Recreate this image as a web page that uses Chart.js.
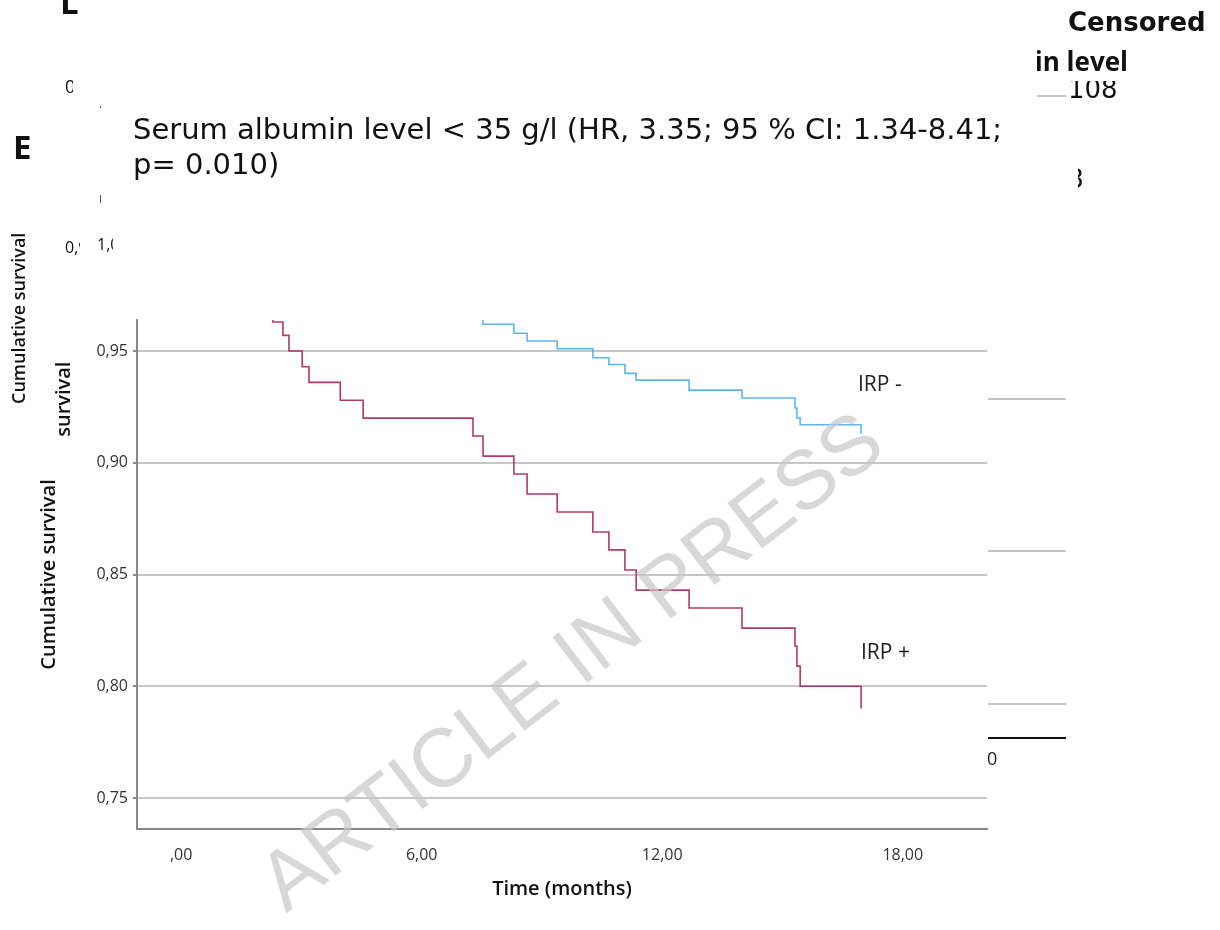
<!DOCTYPE html>
<html>
<head>
<meta charset="utf-8">
<title>Serum albumin level - Kaplan-Meier</title>
<script src="https://cdn.jsdelivr.net/npm/chart.js@4.4.0/dist/chart.umd.min.js"></script>
<style>
	body { margin: 0; background: #fff; }
	#wrap { position: relative; width: 1220px; height: 930px; overflow: hidden; background: #fff; }
	#km { position: absolute; left: 0; top: 0; }
	.txt { position: absolute; white-space: nowrap; color: #111; line-height: 1; }
	.dv { font-family: 'DejaVu Sans', sans-serif; }
	.os { font-family: 'Open Sans', sans-serif; }
	.clip { position: absolute; overflow: hidden; }
	.vert { position: absolute; white-space: nowrap; transform: rotate(-90deg); transform-origin: left top;
		font-family: 'Open Sans', sans-serif; font-weight: 600; font-size: 20px; line-height: 20px; color: #111; }
	.rule { position: absolute; height: 2px; background: #c4c4c4; }
	.mark { position: absolute; width: 1px; background: #555; }
	#stamp { position: absolute; left: 570px; top: 660px; transform: translate(-50%, -50%) rotate(-37.5deg);
		font-family: 'Liberation Sans', Arial, sans-serif; font-size: 83px; color: rgba(200, 200, 200, 0.7);
		white-space: nowrap; line-height: 1; }
</style>
</head>
<body>
<div id="wrap">
	<canvas id="km" width="1220" height="930"></canvas>

	<!-- leftovers of the neighbouring panels -->
	<div class="txt os" style="left:60px; top:-15px; font-size:33px; font-weight:700;">L</div>
	<div class="clip" style="left:65px; top:76px; width:8px; height:20px;"><div class="txt os" style="left:0; top:1px; font-size:18px;">0</div></div>
	<div class="mark" style="left:100px; top:106px; height:2px;"></div>
	<div class="txt os" style="left:13px; top:130px; font-size:33px; font-weight:700;">E</div>
	<div class="mark" style="left:100px; top:195px; height:8px;"></div>
	<div class="clip" style="left:65px; top:236px; width:15px; height:22px;"><div class="txt os" style="left:0; top:3px; font-size:16px;">0,9</div></div>
	<div class="clip" style="left:97px; top:233px; width:16px; height:22px;"><div class="txt os" style="left:0; top:3px; font-size:16px;">1,0</div></div>
	<div class="vert" style="left:9px; top:404px; font-size:18px; line-height:18px;">Cumulative survival</div>
	<div class="clip" style="left:48px; top:355px; width:30px; height:82px;">
		<div class="vert" style="left:5px; top:197px;">Cumulative survival</div>
	</div>

	<div class="txt dv" style="left:1068px; top:9px; font-size:26px; font-weight:700;">Censored</div>
	<div class="clip" style="left:1037px; top:40px; width:91px; height:40px;">
		<div class="txt os" style="right:0; top:8px; font-size:26px; font-weight:700;">Serum albumin level</div>
	</div>
	<div class="clip" style="left:1068px; top:81px; width:60px; height:19px;">
		<div class="txt dv" style="left:0; top:-5px; font-size:26px;">108</div>
	</div>
	<div class="rule" style="left:1037px; top:95px; width:29px;"></div>
	<div class="clip" style="left:1078px; top:160px; width:6px; height:34px;">
		<div class="txt dv" style="right:0; top:6px; font-size:26px;">3</div>
	</div>

	<div class="rule" style="left:988px; top:398px; width:78px;"></div>
	<div class="rule" style="left:988px; top:550px; width:78px;"></div>
	<div class="rule" style="left:988px; top:703px; width:78px;"></div>
	<div class="rule" style="left:988px; top:737px; width:78px; background:#111;"></div>
	<div class="txt os" style="left:987px; top:749px; font-size:18px; color:#222;">0</div>

	<!-- panel title and curve labels -->
	<div class="txt dv" style="left:133px; top:112px; font-size:29px; line-height:35px;">Serum albumin level &lt; 35 g/l (HR, 3.35; 95 % CI: 1.34-8.41;<br>p= 0.010)</div>
	<div class="txt os" style="left:858px; top:373px; font-size:21px; color:#222;">IRP -</div>
	<div class="txt os" style="left:861px; top:641px; font-size:21px; color:#222;">IRP +</div>

	<div id="stamp">ARTICLE IN PRESS</div>
</div>

<script>
	// survival steps (time in months, cumulative survival)
	var timeIrpNeg = [0, 7.53, 8.30, 8.63, 9.38, 10.27, 10.67, 11.07, 11.35, 12.67, 13.99, 15.31, 15.36, 15.44, 16.96];
	var survIrpNeg = [1.0, 0.962, 0.958, 0.9545, 0.951, 0.947, 0.944, 0.940, 0.937, 0.9325, 0.929, 0.9245, 0.920, 0.917, 0.913];

	var timeIrpPos = [0, 2.29, 2.54, 2.69, 3.02, 3.19, 3.97, 4.54, 7.28, 7.53, 8.30, 8.63, 9.38, 10.27, 10.67, 11.07, 11.35, 12.67, 13.99, 15.31, 15.36, 15.44, 16.96];
	var survIrpPos = [1.0, 0.963, 0.957, 0.950, 0.943, 0.936, 0.928, 0.920, 0.912, 0.903, 0.895, 0.886, 0.878, 0.869, 0.861, 0.852, 0.843, 0.835, 0.826, 0.818, 0.809, 0.800, 0.790];

	var xTicks = [0, 6, 12, 18];
	var xTickLabels = [',00', '6,00', '12,00', '18,00'];
	var yTicks = [0.75, 0.80, 0.85, 0.90, 0.95];
	var yTickLabels = ['0,75', '0,80', '0,85', '0,90', '0,95'];

	var toPoints = function (times, surv) {
		return times.map(function (t, i) {
			return { x: t, y: surv[i] };
		});
	};

	Chart.defaults.font.family = "'Open Sans', sans-serif";
	Chart.defaults.color = '#333';

	var ctx = document.getElementById('km').getContext('2d');
	var chart = new Chart(ctx, {
		type: 'line',
		data: {
			datasets: [
				{
					label: 'IRP -',
					data: toPoints(timeIrpNeg, survIrpNeg),
					borderColor: '#5db6f4',
					borderWidth: 1.6,
					stepped: 'before',
					pointRadius: 0,
					fill: false,
				},
				{
					label: 'IRP +',
					data: toPoints(timeIrpPos, survIrpPos),
					borderColor: '#b2386a',
					borderWidth: 1.6,
					stepped: 'before',
					pointRadius: 0,
					fill: false,
				},
			]
		},
		options: {
			responsive: false,
			animation: false,
			layout: {
				padding: { top: 320, right: 233, left: 0, bottom: 0 },
			},
			plugins: {
				legend: { display: false },
				tooltip: { enabled: false },
			},
			scales: {
				x: {
					type: 'linear',
					min: -1.1,
					max: 20.1,
					afterBuildTicks: function (scale) {
						scale.ticks = xTicks.map(function (v) { return { value: v }; });
					},
					afterFit: function (scale) {
						scale.height = 101;
					},
					grid: { display: false, drawTicks: false },
					border: { display: true, color: '#8a8a8a', width: 2 },
					ticks: {
						padding: 17,
						maxRotation: 0,
						font: { size: 16 },
						color: '#333',
						callback: function (value, index) {
							return xTickLabels[index];
						},
					},
					title: {
						display: true,
						text: 'Time (months)',
						color: '#111',
						font: { size: 20, weight: '600' },
						padding: { top: 0, bottom: 29 },
					},
				},
				y: {
					min: 0.7361,
					max: 0.9639,
					afterBuildTicks: function (scale) {
						scale.ticks = yTicks.map(function (v) { return { value: v }; });
					},
					afterFit: function (scale) {
						scale.width = 137;
					},
					grid: {
						color: '#c6c6c6',
						lineWidth: 2,
						drawTicks: true,
						tickLength: 4,
						tickColor: '#8a8a8a',
					},
					border: { display: true, color: '#8a8a8a', width: 2 },
					ticks: {
						padding: 5,
						font: { size: 16 },
						color: '#333',
						callback: function (value, index) {
							return yTickLabels[index];
						},
					},
					title: {
						display: true,
						text: 'Cumulative survival',
						color: '#111',
						font: { size: 20, weight: '600' },
						padding: { top: 37, bottom: 0 },
					},
				},
			},
		},
	});
</script>
</body>
</html>
